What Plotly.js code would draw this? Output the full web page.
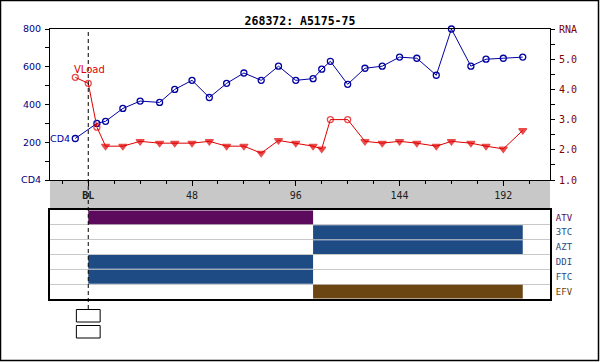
<!DOCTYPE html>
<html>
<head>
<meta charset="utf-8">
<script src="https://cdn.plot.ly/plotly-3.0.1.min.js"></script>
<style>html,body{margin:0;padding:0;background:#fff;}#chart{width:600px;height:362px;}</style>
</head>
<body>
<div id="chart"></div>
<script>
// ---- data ----
var chartTitle = "268372: A5175-75";
var cd4Weeks = [-6,4,8,16,24,33,40,48,56,64,72,80,88,96,104,108,112,120,128,136,144,152,161,168,177,184,192,201];
var cd4Values = [220,300,311,379,418,411,480,528,437,512,567,528,603,528,537,587,629,507,592,603,651,645,555,800,603,640,645,651];
var vlWeeks = [-6,0,4,8,16,24,33,40,48,56,64,72,80,88,96,104,108,112,120,128,136,144,152,161,168,177,184,192,201];
var vlValues = [4.40,4.20,2.75,2.12,2.12,2.28,2.22,2.22,2.22,2.28,2.12,2.12,1.89,2.31,2.22,2.12,2.03,3.00,3.00,2.28,2.22,2.28,2.22,2.12,2.28,2.22,2.12,2.03,2.64];
var vlBelowLimit = [false,false,false,true,true,true,true,true,true,true,true,true,true,true,true,true,true,false,false,true,true,true,true,true,true,true,true,true,true];
var xTickVals = [0,48,96,144,192];
var xTickText = ["<b>BL</b>","48","96","144","192"];
var cd4TickVals = [0,200,400,600,800];
var cd4TickText = ["CD4","200","400","600","800"];
var rnaTickVals = [1,2,3,4,5,6];
var rnaTickText = ["1.0","2.0","3.0","4.0","5.0","RNA"];
var drugs = ["ATV","3TC","AZT","DDI","FTC","EFV"];
var drugStart = [0,104,104,0,0,104];
var drugEnd = [104,201,201,104,104,201];
var drugColors = ["#5c0a5c","#1f4b85","#1f4b85","#1f4b85","#1f4b85","#6b4512"];
var baselineWeek = 0;

// ---- styles ----
var cd4Color = "#0000a0";
var vlColor = "#e00000";

var rows = drugs.map(function(d,i){return i;});
var traces = [
  {
    x: cd4Weeks, y: cd4Values, xaxis:"x", yaxis:"y", type:"scatter", mode:"lines+markers",
    line:{color:cd4Color,width:1},
    marker:{symbol:"circle-open",size:6,color:cd4Color,line:{width:1.3,color:cd4Color}},
    cliponaxis:false, hoverinfo:"skip", showlegend:false
  },
  {
    x: vlWeeks, y: vlValues, xaxis:"x", yaxis:"y2", type:"scatter", mode:"lines+markers",
    line:{color:vlColor,width:1},
    marker:{symbol:vlBelowLimit.map(function(b){return b?"triangle-down":"circle-open";}),
            size:vlBelowLimit.map(function(b){return b?7:6;}),
            color:vlColor,line:{width:1.3,color:vlColor}},
    cliponaxis:false, hoverinfo:"skip", showlegend:false
  },
  {
    type:"bar", orientation:"h", xaxis:"x2", yaxis:"y3",
    y: rows, base: drugStart, x: drugEnd.map(function(e,i){return e-drugStart[i];}),
    width:0.93, marker:{color:drugColors,line:{width:0}},
    hoverinfo:"skip", showlegend:false
  }
];

var H = 362, W = 600, mL = 50, mR = 50, mT = 29, mB = 63;
var plotH = H - mT - mB, plotW = W - mL - mR;
function py(pix){ return (H - mB - pix)/plotH; }
function px(pix){ return (pix - mL)/plotW; }

var mono = "DejaVu Sans Mono";
var layout = {
  width:W, height:H,
  margin:{l:mL,r:mR,t:mT,b:mB,pad:0},
  paper_bgcolor:"#ffffff", plot_bgcolor:"rgba(0,0,0,0)",
  showlegend:false,
  title:{text:chartTitle, x:0.5, xref:"container", xanchor:"center",
         y:1-20.5/H, yref:"container", yanchor:"middle",
         font:{family:mono, size:11.5, color:"#000000", weight:"bold"}},
  xaxis:{domain:[0,1], anchor:"y", range:[-17.7,213.6],
         tickmode:"array", tickvals:xTickVals, ticktext:xTickText,
         ticks:"outside", ticklen:5, tickcolor:"#000", tickwidth:1,
         minor:{tick0:0, dtick:12, ticks:"outside", ticklen:3, tickcolor:"#000"},
         showline:true, mirror:true, linecolor:"#000", linewidth:1,
         showgrid:false, zeroline:false, ticklabelstandoff:1,
         tickfont:{family:mono, size:10, color:"#202020"}},
  yaxis:{domain:[py(180),1], anchor:"x", range:[0,800],
         tickmode:"array", tickvals:cd4TickVals, ticktext:cd4TickText,
         ticks:"outside", ticklen:4, tickcolor:"#000",
         minor:{tick0:0, dtick:100, ticks:"outside", ticklen:4, tickcolor:"#000"},
         showline:true, linecolor:"#000", linewidth:1,
         showgrid:false, zeroline:false, ticklabelstandoff:2,
         tickfont:{family:"DejaVu Sans", size:9.5, color:"#000080"}},
  yaxis2:{overlaying:"y", side:"right", anchor:"x", range:[1,6],
          tickmode:"array", tickvals:rnaTickVals, ticktext:rnaTickText,
          ticks:"outside", ticklen:4, tickcolor:"#000",
          minor:{tick0:1, dtick:0.5, ticks:"outside", ticklen:4, tickcolor:"#000"},
          showline:true, linecolor:"#000", linewidth:1,
          showgrid:false, zeroline:false, ticklabelstandoff:2,
          tickfont:{family:mono, size:10, color:"#800000"}},
  xaxis2:{domain:[0,1], anchor:"y3", range:[-17.7,213.6],
          showticklabels:false, ticks:"", showgrid:false, zeroline:false,
          showline:true, mirror:true, linecolor:"#000", linewidth:2},
  yaxis3:{domain:[0,py(210)], anchor:"x2", range:[5.5,-0.5], side:"right",
          tickmode:"array", tickvals:rows,
          ticktext:drugs.map(function(d,i){return '<span style="color:'+drugColors[i]+'">'+d+'</span>';}),
          ticks:"", showgrid:false, zeroline:false,
          minor:{tick0:0.5, dtick:1, showgrid:true, gridcolor:"#c8c8c8", gridwidth:1, ticks:""},
          showline:true, mirror:true, linecolor:"#000", linewidth:2, ticklabelstandoff:2,
          tickfont:{family:mono, size:9, color:"#1f4b85"}},
  annotations:[
    {text:"VLoad", xref:"x", yref:"y2", x:vlWeeks[0], y:vlValues[0], xanchor:"left", yanchor:"middle",
     xshift:-3, yshift:8, showarrow:false, font:{family:"DejaVu Sans", size:10, color:vlColor}},
    {text:"CD4", xref:"x", yref:"y", x:cd4Weeks[0], y:cd4Values[0], xanchor:"right", yanchor:"middle",
     xshift:-3, yshift:0, showarrow:false, font:{family:"DejaVu Sans", size:9.5, color:cd4Color}}
  ],
  shapes:[
    {type:"rect", xref:"paper", yref:"paper", x0:0, x1:1, y0:py(208), y1:py(180),
     fillcolor:"#c8c8c8", line:{width:0}, layer:"below"},
    {type:"line", xref:"x", yref:"paper", x0:baselineWeek, x1:baselineWeek, y0:py(309), y1:1,
     line:{color:"#000", width:1, dash:"4px,3px"}, layer:"above"},
    {type:"rect", xref:"x", yref:"paper", x0:baselineWeek-5.5, x1:baselineWeek+5.5, y0:py(322), y1:py(309.5),
     fillcolor:"#fff", line:{color:"#000", width:1}},
    {type:"rect", xref:"x", yref:"paper", x0:baselineWeek-5.5, x1:baselineWeek+5.5, y0:py(338), y1:py(325.5),
     fillcolor:"#fff", line:{color:"#000", width:1}},
    {type:"rect", xref:"paper", yref:"paper", x0:px(0.5), x1:px(598.5), y0:py(360.5), y1:py(0.5),
     fillcolor:"rgba(0,0,0,0)", line:{color:"#000", width:1.5}}
  ]
};

Plotly.newPlot("chart", traces, layout, {staticPlot:true, displayModeBar:false});
</script>
</body>
</html>
